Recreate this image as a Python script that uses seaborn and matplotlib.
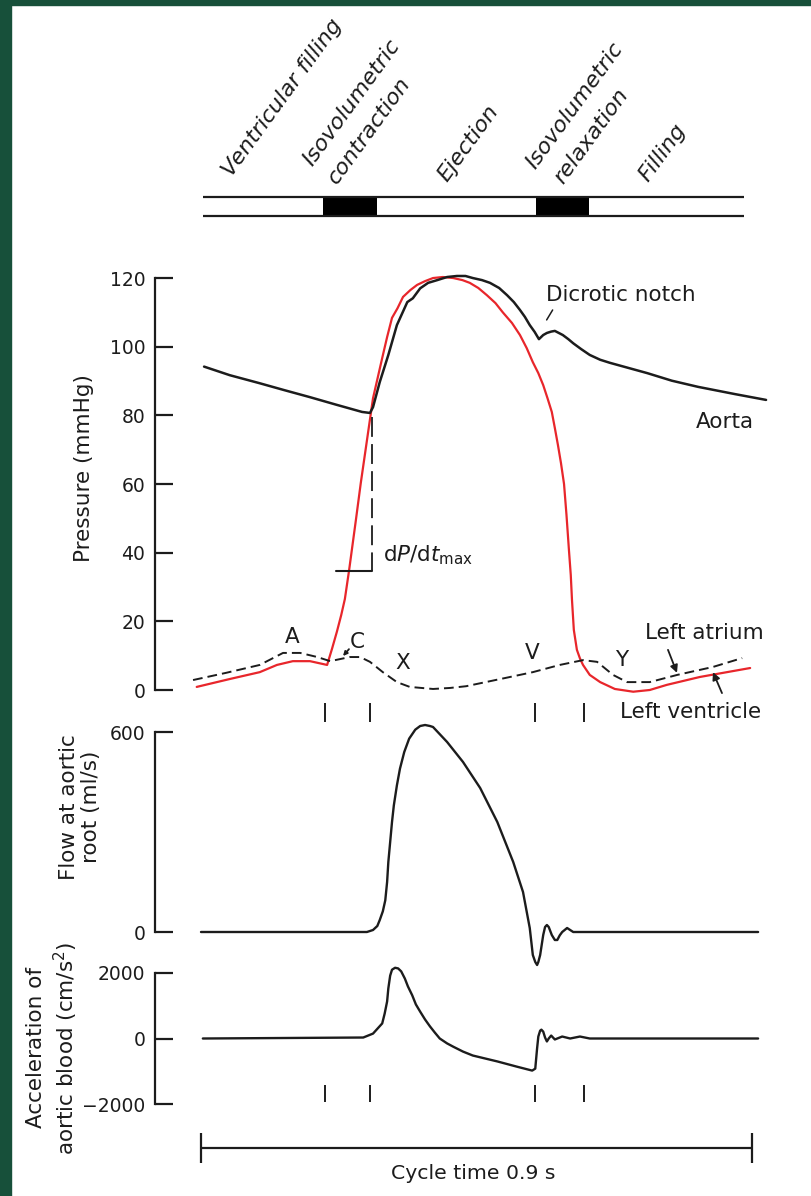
import matplotlib
matplotlib.use("Agg")
import matplotlib.pyplot as plt
from matplotlib.patches import Rectangle
import seaborn as sns

# tamaño de la figura en píxeles
W, H = 811, 1196

# ciclo cardiaco (tiempo en s)
cycle_len = 0.9
marker_t = [0.203, 0.276, 0.546, 0.626]
phase_boxes = [(0.199, 0.288), (0.547, 0.634)]
phase_bar = (0.003, 0.887)

# presión aórtica (mmHg)
aorta_t = [0.005, 0.047, 0.095, 0.137, 0.178, 0.221, 0.263, 0.276, 0.281, 0.292,
           0.306, 0.320, 0.337, 0.346, 0.358, 0.371, 0.386, 0.402, 0.418, 0.432,
           0.444, 0.459, 0.472, 0.487, 0.500, 0.511, 0.521, 0.529, 0.537, 0.545,
           0.552, 0.559, 0.565, 0.572, 0.578, 0.591, 0.600, 0.608, 0.621, 0.635,
           0.652, 0.668, 0.729, 0.769, 0.812, 0.872, 0.923]
aorta_p = [94.2, 91.7, 89.4, 87.3, 85.3, 83.1, 81.0, 80.7, 82.4, 89.7,
           97.6, 106.3, 113.0, 114.1, 117.0, 118.6, 119.4, 120.3, 120.6, 120.6,
           120.0, 119.4, 118.6, 117.1, 115.0, 113.0, 110.7, 108.7, 106.3, 104.3,
           102.2, 103.4, 104.0, 104.4, 104.6, 103.4, 102.2, 101.0, 99.3, 97.6,
           96.2, 95.3, 92.3, 90.1, 88.3, 86.2, 84.5]

# presión del ventrículo izquierdo (mmHg)
lv_t = [-0.007, 0.047, 0.096, 0.124, 0.150, 0.178, 0.206, 0.214, 0.222, 0.229,
        0.235, 0.242, 0.253, 0.261, 0.270, 0.281, 0.296, 0.304, 0.312, 0.321,
        0.330, 0.342, 0.353, 0.366, 0.379, 0.395, 0.412, 0.427, 0.439, 0.453,
        0.467, 0.481, 0.493, 0.508, 0.521, 0.532, 0.542, 0.551, 0.559, 0.566,
        0.573, 0.578, 0.583, 0.588, 0.593, 0.597, 0.601, 0.604, 0.606, 0.609,
        0.614, 0.619, 0.624, 0.635, 0.652, 0.676, 0.706, 0.733, 0.761, 0.815,
        0.897]
lv_p = [0.9, 3.2, 5.2, 7.3, 8.4, 8.4, 7.3, 12.0, 17.0, 21.8,
        26.5, 35.0, 49.5, 60.3, 71.4, 85.0, 96.7, 102.8, 108.4, 111.2,
        114.5, 116.5, 118.0, 119.1, 120.0, 120.3, 120.0, 119.4, 118.6, 117.1,
        115.0, 112.7, 110.0, 106.9, 103.4, 99.6, 95.5, 92.3, 88.8, 85.0,
        81.0, 76.3, 71.4, 66.1, 60.0, 51.0, 40.8, 33.5, 26.2, 17.5,
        11.7, 9.2, 7.3, 4.4, 2.3, 0.3, -0.5, 0.0, 1.5, 3.8,
        6.4]

# presión de la aurícula izquierda (mmHg)
la_t = [-0.013, 0.041, 0.096, 0.134, 0.162, 0.190, 0.211, 0.227, 0.243, 0.260,
        0.276, 0.297, 0.320, 0.341, 0.379, 0.407, 0.433, 0.497, 0.542, 0.586,
        0.624, 0.647, 0.673, 0.696, 0.733, 0.778, 0.836, 0.884]
la_p = [2.9, 5.0, 7.3, 10.8, 10.8, 9.6, 8.4, 9.0, 9.6, 9.6,
        8.2, 5.2, 2.3, 0.9, 0.3, 0.6, 1.1, 3.5, 5.2, 7.3,
        8.7, 8.2, 4.4, 2.3, 2.3, 4.4, 6.7, 9.3]

# flujo en la raíz aórtica (ml/s)
flow_t = [0.000, 0.271, 0.281, 0.288, 0.292, 0.297, 0.301, 0.304, 0.306, 0.309,
          0.312, 0.315, 0.320, 0.325, 0.332, 0.340, 0.350, 0.358, 0.366, 0.374,
          0.379, 0.402, 0.428, 0.456, 0.484, 0.510, 0.526, 0.537, 0.542, 0.546,
          0.549, 0.551, 0.554, 0.559, 0.562, 0.565, 0.568, 0.573, 0.578, 0.582,
          0.586, 0.590, 0.598, 0.608, 0.910]
flow_v = [0, 0, 6, 18, 36, 62, 95, 150, 210, 270,
          330, 380, 440, 490, 540, 580, 607, 618, 621, 618,
          615, 570, 510, 432, 330, 210, 120, 12, -69, -90,
          -99, -90, -69, -9, 15, 21, 15, -9, -24, -24,
          -10, 0, 12, 0, 0]

# aceleración de la sangre aórtica (cm/s^2)
acc_t = [0.003, 0.265, 0.281, 0.296, 0.300, 0.304, 0.306, 0.309, 0.312, 0.317,
         0.322, 0.327, 0.333, 0.338, 0.345, 0.351, 0.358, 0.366, 0.374, 0.382,
         0.390, 0.402, 0.412, 0.428, 0.444, 0.484, 0.516, 0.541, 0.546, 0.549,
         0.551, 0.554, 0.556, 0.559, 0.562, 0.565, 0.568, 0.572, 0.578, 0.590,
         0.603, 0.619, 0.635, 0.910]
acc_v = [0, 30, 150, 460, 760, 1130, 1530, 1920, 2100, 2160,
         2140, 2050, 1830, 1590, 1320, 1040, 820, 580, 370, 180,
         0, -150, -250, -400, -520, -700, -860, -980, -920, -300,
         60, 240, 270, 210, 30, -90, 0, 90, -30, 60,
         0, 60, 0, 0]

# estilo
sns.set_theme(style="white")
plt.rcParams['font.family'] = ['DejaVu Sans']
plt.rcParams['mathtext.fontset'] = 'dejavusans'
ink = '#1c1c1c'
red = '#e8262b'
green = '#17503a'
fs = 15.5

fig = plt.figure(figsize=(W / 100, H / 100), dpi=100)
fig.patch.set_facecolor('white')
fig.patches.append(Rectangle((0, 0), 11 / W, 1, transform=fig.transFigure, color=green, zorder=-5))
fig.patches.append(Rectangle((0, 1 - 5 / H), 1, 5 / H, transform=fig.transFigure, color=green, zorder=-5))

# mapeo horizontal: t=0 en x=201 px, 612.2 px por segundo
x0_px, px_per_s = 201, 612.2
xlim = ((155 - x0_px) / px_per_s, (770 - x0_px) / px_per_s)


def add_ax(top, bottom, left=155, right=770):
    a = fig.add_axes([left / W, 1 - bottom / H, (right - left) / W, (bottom - top) / H])
    a.set_facecolor('none')
    a.set_xlim(*xlim)
    for s in a.spines.values():
        s.set_visible(False)
    a.set_xticks([])
    a.set_yticks([])
    return a


def setup_y(a, top, bottom, zero_px, ppu, ticks):
    a.set_ylim((zero_px - bottom) / ppu, (zero_px - top) / ppu)
    a.spines['left'].set_visible(True)
    a.spines['left'].set_bounds(ticks[0], ticks[-1])
    a.spines['left'].set_linewidth(1.6)
    a.spines['left'].set_color(ink)
    a.set_yticks(ticks)
    a.tick_params(axis='y', direction='in', length=13, width=1.6, pad=7,
                  labelsize=13.5, colors=ink, left=True)


# ---- barra de fases ----
ax_b = add_ax(190, 222)
ax_b.set_ylim(0, 1)
ax_b.hlines([0.781, 0.1875], *phase_bar, color=ink, lw=1.6)
for a0, a1 in phase_boxes:
    ax_b.axvspan(a0, a1, ymin=0.1875, ymax=0.781, color='black', lw=0)

phase_labels = [("Ventricular filling", 232, 178), ("Isovolumetric", 312, 167),
                ("contraction", 337, 185), ("Ejection", 447, 183),
                ("Isovolumetric", 535, 170), ("relaxation", 563, 185),
                ("Filling", 648, 183)]
for txt, px, py in phase_labels:
    fig.text(px / W, 1 - py / H, txt, rotation=54, rotation_mode='anchor',
             ha='left', va='baseline', style='italic', fontsize=16, color=ink)

# ---- presiones ----
ax_p = add_ax(270, 700)
setup_y(ax_p, 270, 700, 690, 3.433, [0, 20, 40, 60, 80, 100, 120])
sns.lineplot(x=lv_t, y=lv_p, ax=ax_p, color=red, lw=1.6, estimator=None, sort=False)
sns.lineplot(x=la_t, y=la_p, ax=ax_p, color=ink, lw=1.4, estimator=None, sort=False,
             linestyle=(0, (5, 2.6)))
sns.lineplot(x=aorta_t, y=aorta_p, ax=ax_p, color=ink, lw=1.8, estimator=None, sort=False)
for ln in ax_p.lines:
    ln.set_clip_on(False)
    ln.set_solid_joinstyle('round')
ax_p.vlines(marker_t, -3.8, -9.3, color=ink, lw=1.4, clip_on=False)

# dP/dt max
ax_p.plot([0.2793, 0.2793], [79.5, 34.8], color=ink, lw=1.3, linestyle=(0, (11, 4)))
ax_p.plot([0.2205, 0.2793], [34.8, 34.8], color=ink, lw=1.5)
ax_p.text(0.2973, 39.3, r'd$P$/d$t_{\mathrm{max}}$', fontsize=fs, va='center', color=ink)

ax_p.text(0.5636, 115.1, 'Dicrotic notch', fontsize=fs, va='center', color=ink)
ax_p.plot([0.5646, 0.5744], [107.8, 110.7], color=ink, lw=1.1)
ax_p.text(0.8086, 78.1, 'Aorta', fontsize=fs, va='center', color=ink)

for lab, tx, py in [('A', 0.1486, 15.4), ('C', 0.2548, 14.0), ('X', 0.3300, 7.9),
                    ('V', 0.5407, 10.8), ('Y', 0.6877, 8.7)]:
    ax_p.text(tx, py, lab, fontsize=fs, ha='center', va='center', color=ink)

arrow = dict(arrowstyle='-|>', lw=1.3, color=ink, mutation_scale=11, shrinkA=0, shrinkB=0)
ax_p.annotate('', xy=(0.232, 9.9), xytext=(0.2417, 11.9),
              arrowprops=dict(arrow, mutation_scale=6))
ax_p.text(0.7253, 16.6, 'Left atrium', fontsize=fs, va='center', color=ink)
ax_p.annotate('', xy=(0.7775, 5.0), xytext=(0.7628, 11.7), arrowprops=arrow,
              annotation_clip=False)
ax_p.text(0.6844, -6.4, 'Left ventricle', fontsize=fs, va='center', color=ink)
ax_p.annotate('', xy=(0.8363, 5.2), xytext=(0.8510, -0.9), arrowprops=arrow,
              annotation_clip=False)

# ---- flujo ----
ax_f = add_ax(715, 975)
setup_y(ax_f, 715, 975, 932, 200 / 600, [0, 600])
sns.lineplot(x=flow_t, y=flow_v, ax=ax_f, color=ink, lw=1.7, estimator=None, sort=False)

# ---- aceleración ----
ax_a = add_ax(955, 1112)
setup_y(ax_a, 955, 1112, 1038.5, 0.03275, [-2000, 0, 2000])
sns.lineplot(x=acc_t, y=acc_v, ax=ax_a, color=ink, lw=1.7, estimator=None, sort=False)
ax_a.vlines(marker_t, -1420, -1940, color=ink, lw=1.4, clip_on=False)

for a in (ax_f, ax_a):
    for ln in a.lines:
        ln.set_clip_on(False)
        ln.set_solid_joinstyle('round')

for a in (ax_p, ax_f, ax_a):
    a.set_xlabel('')
    a.set_ylabel('')
    if a.get_legend():
        a.get_legend().remove()

# etiquetas de los ejes y
fig.text(84 / W, 1 - 468 / H, 'Pressure (mmHg)', rotation=90, ha='center', va='center',
         fontsize=fs, color=ink)
fig.text(80 / W, 1 - 807 / H, 'Flow at aortic\nroot (ml/s)', rotation=90, ha='center',
         va='center', multialignment='center', fontsize=fs, color=ink, linespacing=1.15)
fig.text(53 / W, 1 - 1048 / H, 'Acceleration of\naortic blood (cm/s$^2$)', rotation=90,
         ha='center', va='center', multialignment='center', fontsize=fs, color=ink,
         linespacing=1.25)

# ---- duración del ciclo ----
ax_c = add_ax(1125, 1190)
ax_c.set_ylim(0, 1)
ax_c.hlines(0.646, 0, cycle_len, color=ink, lw=1.6)
ax_c.vlines([0, cycle_len], 0.415, 0.877, color=ink, lw=1.6)
ax_c.text(cycle_len / 2 - 0.005, 0.26, 'Cycle time 0.9 s', ha='center', va='center',
          fontsize=14.7, color=ink)

fig.savefig('out.png', dpi=100)
